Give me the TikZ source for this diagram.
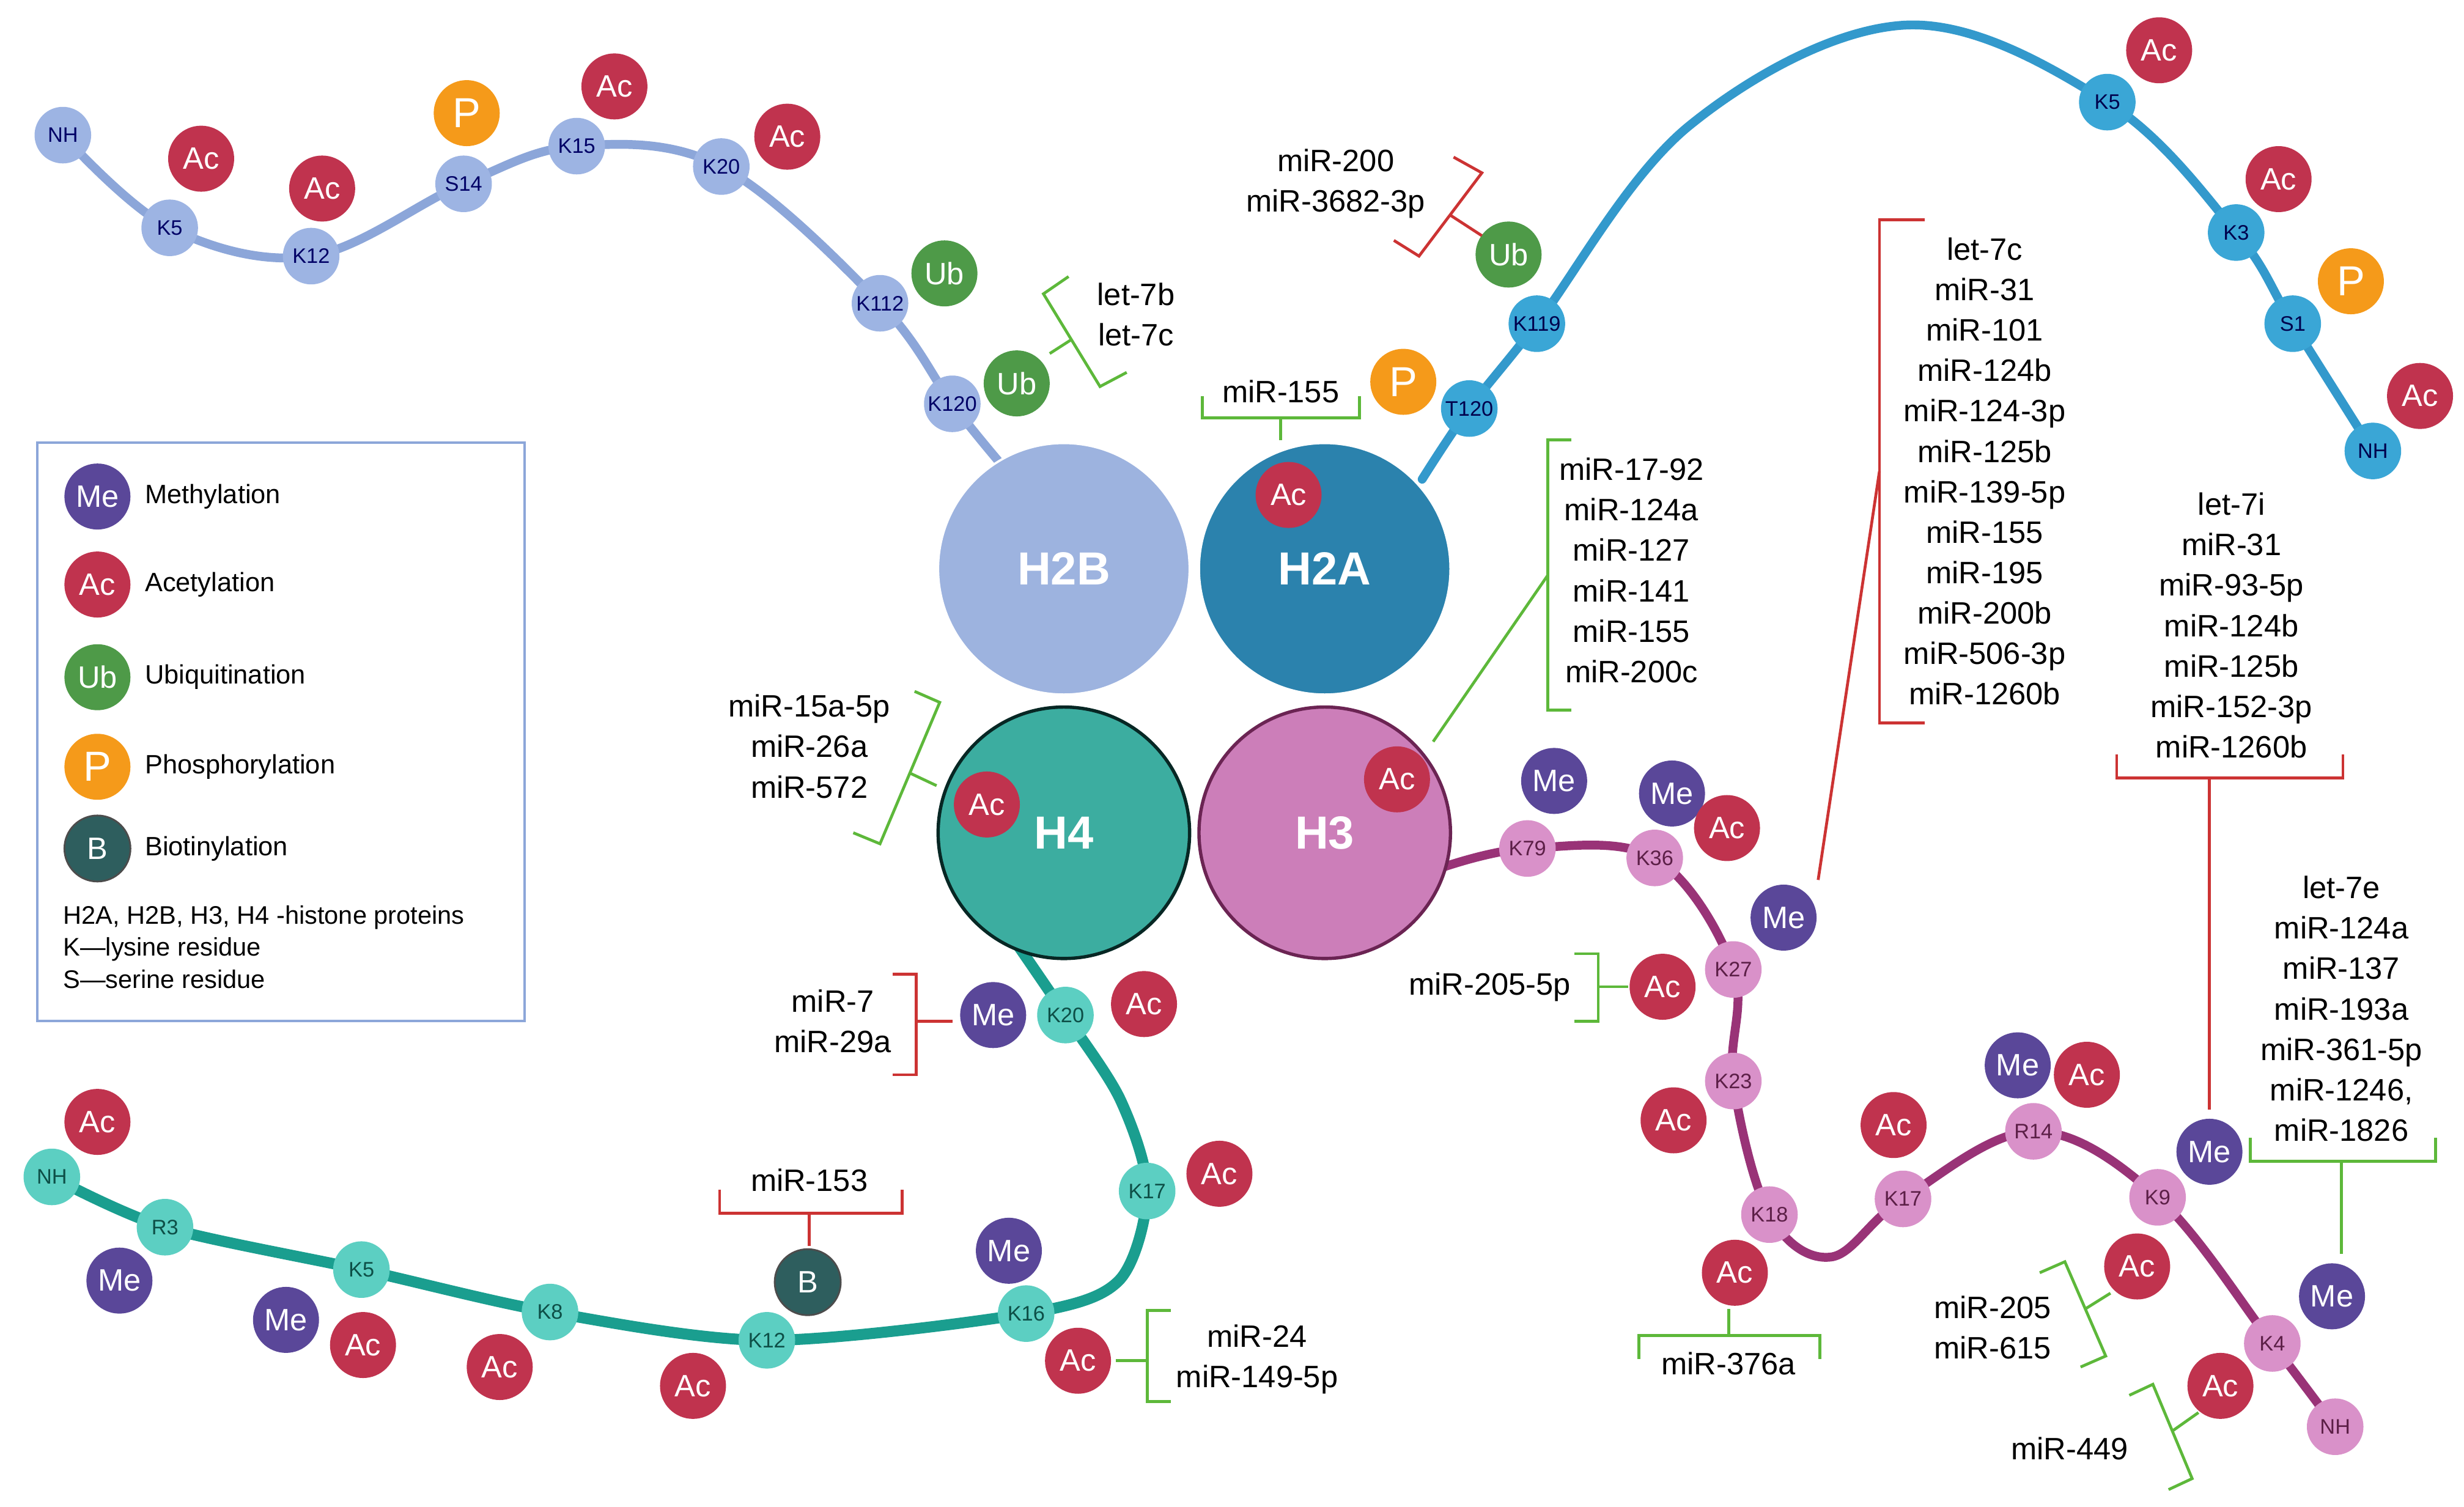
\documentclass[tikz,border=0pt]{standalone}
\usepackage{fontspec}
\setmainfont{Liberation Sans}
\usetikzlibrary{backgrounds}
\definecolor{cAc}{HTML}{C0334E}
\definecolor{cMe}{HTML}{5A4799}
\definecolor{cUb}{HTML}{4E9A48}
\definecolor{cP}{HTML}{F59A1A}
\definecolor{cB}{HTML}{2E5E5E}
\definecolor{tB}{HTML}{8CA6D9}
\definecolor{rB}{HTML}{9DB4E3}
\definecolor{tA}{HTML}{3399CC}
\definecolor{rA}{HTML}{3AA6D6}
\definecolor{t4}{HTML}{1A9E8F}
\definecolor{r4}{HTML}{5CCFC2}
\definecolor{t3}{HTML}{993377}
\definecolor{r3}{HTML}{D991C9}
\definecolor{gbr}{HTML}{5DB83A}
\definecolor{rbr}{HTML}{CC3333}
\tikzset{
 mod/.style={circle,minimum size=1.05cm,inner sep=0pt,text=white,font=\fontsize{14}{14}\selectfont},
 Ac/.style={mod,fill=cAc},Me/.style={mod,fill=cMe},Ub/.style={mod,fill=cUb},
 P/.style={mod,fill=cP,font=\fontsize{19}{19}\selectfont},B/.style={mod,fill=cB,draw=black!70,thick},
 res/.style={circle,minimum size=0.9cm,inner sep=0pt,font=\fontsize{9.5}{10}\selectfont},
 hist/.style={circle,minimum size=4cm,inner sep=0pt,text=white,font=\fontsize{21}{21}\selectfont\bfseries},
 lst/.style={align=center,font=\fontsize{14}{18.3}\selectfont,inner sep=0pt},
 gb/.style={gbr,line width=1.3pt},rb/.style={rbr,line width=1.3pt},
 tail/.style={line width=4pt,line cap=round},
 lg/.style={anchor=west,font=\fontsize{12}{14}\selectfont,inner sep=0pt}
}
\begin{document}
\begin{tikzpicture}[x=0.025cm,y=-0.025cm]
\useasboundingbox (0,0) rectangle (1568,959);
% histones
\node[hist,fill=tB!85,draw=white,line width=1pt] (H2B) at (677,362) {H2B};
\node[hist,fill=tA!85!black,draw=white,line width=1pt] (H2A) at (843,362) {H2A};
\node[hist,fill=t4!85!white,draw=black!75!t4,line width=1.5pt] (H4) at (677,530) {H4};
\node[hist,fill=r3!80!t3,draw=t3!70!black,line width=1.5pt] (H3) at (843,530) {H3};
% H2B tail
\node[res,fill=rB,text=blue!40!black] (bNH) at (40,86) {NH};
\node[res,fill=rB,text=blue!40!black] (bK5) at (108,145) {K5};
\node[res,fill=rB,text=blue!40!black] (bK12) at (198,163) {K12};
\node[res,fill=rB,text=blue!40!black] (bS14) at (295,117) {S14};
\node[res,fill=rB,text=blue!40!black] (bK15) at (367,93) {K15};
\node[res,fill=rB,text=blue!40!black] (bK20) at (459,106) {K20};
\node[res,fill=rB,text=blue!40!black] (bK112) at (560,193) {K112};
\node[res,fill=rB,text=blue!40!black] (bK120) at (606,257) {K120};
\coordinate (bE) at (635,293);
\begin{pgfonlayer}{background}
\draw[tail,tB] plot[smooth,tension=0.6] coordinates {(bNH) (bK5) (bK12) (bS14) (bK15) (bK20) (bK112) (bK120) (bE)};
\end{pgfonlayer}
\node[Ac] (m1) at (128,101) {Ac};
\node[Ac] (m2) at (205,120) {Ac};
\node[P] (m3) at (297,72) {P};
\node[Ac] (m4) at (391,55) {Ac};
\node[Ac] (m5) at (501,87) {Ac};
\node[Ub] (m6) at (601,174) {Ub};
\node[Ub] (m7) at (647,244) {Ub};
\node[lst,anchor=west] (l7b) at (698,200) {let-7b\\let-7c};
\draw[gb] (680,176)--(664,187)--(700,246)--(717,237);
\coordinate (s7b) at (668,225);
\draw[gb] (682,216)--(s7b);
% H2A tail
\node[res,fill=rA,text=blue!30!black] (aT120) at (935,260) {T120};
\node[res,fill=rA,text=blue!30!black] (aK119) at (978,206) {K119};
\node[res,fill=rA,text=blue!30!black] (aK5) at (1341,65) {K5};
\node[res,fill=rA,text=blue!30!black] (aK3) at (1423,148) {K3};
\node[res,fill=rA,text=blue!30!black] (aS1) at (1459,206) {S1};
\node[res,fill=rA,text=blue!30!black] (aNH) at (1510,287) {NH};
\coordinate (aE) at (905,305);
\coordinate (a1) at (1075,80);
\coordinate (a2) at (1212,16);
\begin{pgfonlayer}{background}
\draw[tail,tA] plot[smooth,tension=0.6] coordinates {(aE) (aT120) (aK119) (a1) (a2) (aK5) (aK3) (aS1) (aNH)};
\end{pgfonlayer}
\node[Ub] (n1) at (960,162) {Ub};
\node[P] (n2) at (893,243) {P};
\node[Ac] (n3) at (1374,32) {Ac};
\node[Ac] (n4) at (1450,114) {Ac};
\node[P] (n5) at (1496,179) {P};
\node[Ac] (n6) at (1540,252) {Ac};
\node[Ac] (n7) at (820,315) {Ac};
\node[lst] (l200) at (850,117) {miR-200\\miR-3682-3p};
\draw[rb] (925,100)--(943,110)--(903,163)--(887,153);
\coordinate (s200) at (943,150);
\draw[rb] (923,137)--(s200);
\node[lst] (l155) at (815,249) {miR-155};
\draw[gb] (765,252)--(765,266)--(865,266)--(865,252);
\coordinate (s155) at (815,280);
\draw[gb] (815,266)--(s155);
% H3 tail
\node[res,fill=r3,text=t3!60!black] (cK79) at (972,540) {K79};
\node[res,fill=r3,text=t3!60!black] (cK36) at (1053,546) {K36};
\node[res,fill=r3,text=t3!60!black] (cK27) at (1103,617) {K27};
\node[res,fill=r3,text=t3!60!black] (cK23) at (1103,688) {K23};
\node[res,fill=r3,text=t3!60!black] (cK18) at (1126,773) {K18};
\node[res,fill=r3,text=t3!60!black] (cK17) at (1211,763) {K17};
\node[res,fill=r3,text=t3!60!black] (cR14) at (1294,720) {R14};
\node[res,fill=r3,text=t3!60!black] (cK9) at (1373,762) {K9};
\node[res,fill=r3,text=t3!60!black] (cK4) at (1446,855) {K4};
\node[res,fill=r3,text=t3!60!black] (cNH) at (1486,908) {NH};
\coordinate (cE) at (918,552);
\coordinate (c1) at (1165,800);
\begin{pgfonlayer}{background}
\draw[tail,t3] plot[smooth,tension=0.6] coordinates {(cE) (cK79) (cK36) (cK27) (cK23) (cK18) (c1) (cK17) (cR14) (cK9) (cK4) (cNH)};
\end{pgfonlayer}
\node[Me] (o1) at (989,497) {Me};
\node[Me] (o2) at (1064,505) {Me};
\node[Ac] (o3) at (1099,527) {Ac};
\node[Me] (o4) at (1135,584) {Me};
\node[Ac] (o5) at (1058,628) {Ac};
\node[Ac] (o6) at (1065,713) {Ac};
\node[Ac] (o7) at (1104,810) {Ac};
\node[Ac] (o8) at (1205,716) {Ac};
\node[Me] (o9) at (1284,678) {Me};
\node[Ac] (o10) at (1328,684) {Ac};
\node[Me] (o11) at (1406,733) {Me};
\node[Ac] (o12) at (1360,806) {Ac};
\node[Me] (o13) at (1484,825) {Me};
\node[Ac] (o14) at (1413,882) {Ac};
\node[Ac] (o15) at (889,496) {Ac};
% H4 tail
\node[res,fill=r4,text=t4!50!black] (dK20) at (678,646) {K20};
\node[res,fill=r4,text=t4!50!black] (dK17) at (730,758) {K17};
\node[res,fill=r4,text=t4!50!black] (dK16) at (653,836) {K16};
\node[res,fill=r4,text=t4!50!black] (dK12) at (488,853) {K12};
\node[res,fill=r4,text=t4!50!black] (dK8) at (350,835) {K8};
\node[res,fill=r4,text=t4!50!black] (dK5) at (230,808) {K5};
\node[res,fill=r4,text=t4!50!black] (dR3) at (105,781) {R3};
\node[res,fill=r4,text=t4!50!black] (dNH) at (33,749) {NH};
\coordinate (dE) at (648,602);
\coordinate (d1) at (713,700);
\coordinate (d2) at (712,815);
\begin{pgfonlayer}{background}
\draw[tail,t4,line width=5pt] plot[smooth,tension=0.5] coordinates {(dE) (dK20) (d1) (dK17) (d2) (dK16) (dK12) (dK8) (dK5) (dR3) (dNH)};
\end{pgfonlayer}
\node[Me] (p1) at (632,646) {Me};
\node[Ac] (p2) at (728,639) {Ac};
\node[Ac] (p3) at (776,747) {Ac};
\node[Me] (p4) at (642,796) {Me};
\node[B] (p5) at (514,816) {B};
\node[Ac] (p6) at (686,866) {Ac};
\node[Ac] (p7) at (441,882) {Ac};
\node[Ac] (p8) at (318,870) {Ac};
\node[Ac] (p9) at (231,856) {Ac};
\node[Me] (p10) at (182,840) {Me};
\node[Ac] (p11) at (62,714) {Ac};
\node[Me] (p12) at (76,815) {Me};
\node[Ac] (p13) at (628,512) {Ac};
% miRNA lists and brackets
\node[lst] (l15a) at (515,475) {miR-15a-5p\\miR-26a\\miR-572};
\draw[gb] (582,440)--(598,447)--(560,537)--(543,530);
\coordinate (s15a) at (596,500);
\draw[gb] (579,492)--(s15a);
\node[lst,anchor=west] (l1792) at (992,363) {miR-17-92\\miR-124a\\miR-127\\miR-141\\miR-155\\miR-200c};
\draw[gb] (1000,280)--(985,280)--(985,452)--(1000,452);
\coordinate (s1792) at (912,472);
\draw[gb] (985,366)--(s1792);
\node[lst] (l7c) at (1263,300) {let-7c\\miR-31\\miR-101\\miR-124b\\miR-124-3p\\miR-125b\\miR-139-5p\\miR-155\\miR-195\\miR-200b\\miR-506-3p\\miR-1260b};
\draw[rb] (1225,140)--(1196,140)--(1196,460)--(1225,460);
\coordinate (s7c) at (1157,560);
\draw[rb] (1196,300)--(s7c);
\node[lst] (l7i) at (1420,398) {let-7i\\miR-31\\miR-93-5p\\miR-124b\\miR-125b\\miR-152-3p\\miR-1260b};
\draw[rb] (1347,480)--(1347,495)--(1491,495)--(1491,480);
\coordinate (s7i) at (1406,706);
\draw[rb] (1406,495)--(s7i);
\node[lst] (l7e) at (1490,642) {let-7e\\miR-124a\\miR-137\\miR-193a\\miR-361-5p\\miR-1246,\\miR-1826};
\draw[gb] (1432,724)--(1432,739)--(1550,739)--(1550,724);
\coordinate (s7e) at (1490,798);
\draw[gb] (1490,739)--(s7e);
\node[lst] (l7) at (530,650) {miR-7\\miR-29a};
\draw[rb] (568,620)--(583,620)--(583,684)--(568,684);
\coordinate (s7) at (606,650);
\draw[rb] (583,650)--(s7);
\node[lst] (l153) at (515,751) {miR-153};
\draw[rb] (458,757)--(458,772)--(574,772)--(574,757);
\coordinate (s153) at (515,793);
\draw[rb] (515,772)--(s153);
\node[lst] (l24) at (800,865) {miR-24\\miR-149-5p};
\draw[gb] (745,834)--(730,834)--(730,892)--(745,892);
\coordinate (s24) at (710,866);
\draw[gb] (730,866)--(s24);
\node[lst] (l205) at (948,628) {miR-205-5p};
\draw[gb] (1002,607)--(1017,607)--(1017,650)--(1002,650);
\coordinate (s205) at (1036,628);
\draw[gb] (1017,628)--(s205);
\node[lst] (l376) at (1100,868) {miR-376a};
\draw[gb] (1043,865)--(1043,850)--(1158,850)--(1158,865);
\coordinate (s376) at (1100,833);
\draw[gb] (1100,850)--(s376);
\node[lst] (l615) at (1268,845) {miR-205\\miR-615};
\draw[gb] (1298,810)--(1314,803)--(1340,863)--(1324,870);
\coordinate (s615) at (1343,823);
\draw[gb] (1327,833)--(s615);
\node[lst] (l449) at (1317,922) {miR-449};
\draw[gb] (1355,888)--(1370,881)--(1395,941)--(1380,948);
\coordinate (s449) at (1399,899);
\draw[gb] (1382,911)--(s449);
% legend
\node[draw=tB,line width=1pt,minimum width=7.75cm,minimum height=9.2cm,anchor=north west,inner sep=0pt] (leg) at (23,281) {};
\node[Me] (g1) at (62,316) {Me}; \node[lg] (gt1) at (92,316) {Methylation};
\node[Ac] (g2) at (62,372) {Ac}; \node[lg] (gt2) at (92,372) {Acetylation};
\node[Ub] (g3) at (62,431) {Ub}; \node[lg] (gt3) at (92,431) {Ubiquitination};
\node[P] (g4) at (62,488) {P}; \node[lg] (gt4) at (92,488) {Phosphorylation};
\node[B] (g5) at (62,540) {B}; \node[lg] (gt5) at (92,540) {Biotinylation};
\node[anchor=north west,align=left,font=\fontsize{11.5}{14.5}\selectfont,inner sep=0pt] (gtx) at (40,576) {H2A, H2B, H3, H4 -histone proteins\\K---lysine residue\\S---serine residue};
\end{tikzpicture}
\end{document}
